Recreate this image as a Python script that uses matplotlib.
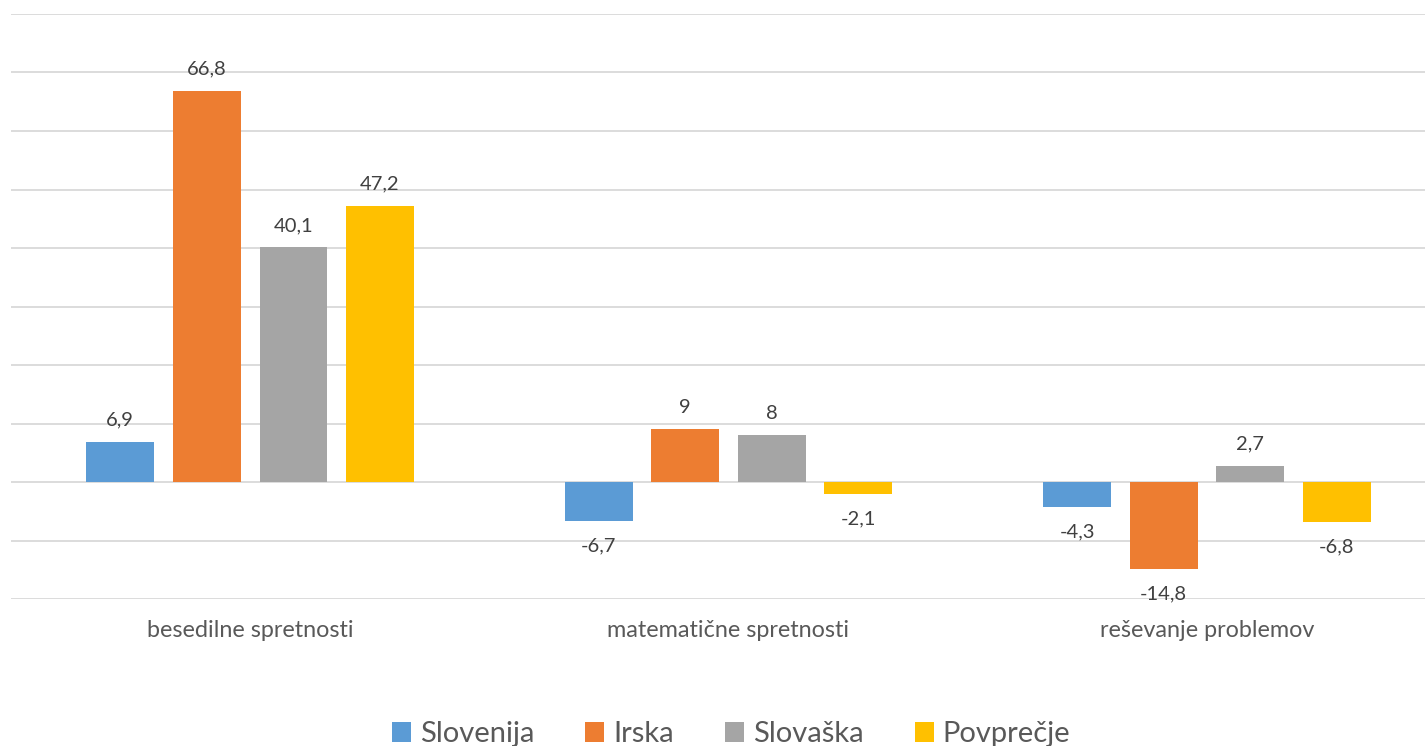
import matplotlib.pyplot as plt
import numpy as np

# podatki
categories = ['besedilne spretnosti', 'matematične spretnosti', 'reševanje problemov']
series_names = ['Slovenija', 'Irska', 'Slovaška', 'Povprečje']
slovenija = [6.9, -6.7, -4.3]
irska = [66.8, 9, -14.8]
slovaska = [40.1, 8, 2.7]
povprecje = [47.2, -2.1, -6.8]
colors = ['#5B9BD5', '#ED7D31', '#A5A5A5', '#FFC000']

plt.rcParams['font.family'] = ['Lato', 'DejaVu Sans']
TEXT = '#404040'
TEXT2 = '#595959'

fig = plt.figure(figsize=(14.25, 7.46), dpi=100)
ax = fig.add_axes([11 / 1425, 147 / 746, 1 - 11 / 1425, 585 / 746])

x = np.arange(len(categories))
width = 0.142
step = 0.181
all_series = [slovenija, irska, slovaska, povprecje]

for i, (name, vals, col) in enumerate(zip(series_names, all_series, colors)):
    pos = x + (i - 1.5) * step
    ax.bar(pos, vals, width, color=col, label=name, zorder=3)
    for px, v in zip(pos, vals):
        txt = f'{v:g}'.replace('.', ',')
        off = 15.8 if v >= 0 else -18
        ax.annotate(txt, (px, v), xytext=(0, off), textcoords='offset points',
                    ha='center', va='center', fontsize=14.5, color=TEXT)

ax.set_ylim(-20, 80)
ax.set_xlim(-0.5, 2.456)
ax.set_yticks(np.arange(-20, 81, 10))
ax.yaxis.grid(True, color='#d9d9d9', linewidth=1.3, zorder=0)
ax.tick_params(axis='y', left=False, labelleft=False)
ax.set_xticks(x)
ax.set_xticklabels(categories, fontsize=16.8, color=TEXT2)
ax.tick_params(axis='x', length=0, pad=15)
for s in ax.spines.values():
    s.set_visible(False)

fig.legend(loc='center', bbox_to_anchor=(731 / 1425, 12 / 746), ncol=4,
           frameon=False, fontsize=21, labelcolor=TEXT2, handlelength=0.65,
           handleheight=0.7, handletextpad=0.3, columnspacing=1.76,
           borderpad=0, borderaxespad=0)

fig.savefig('out.png', dpi=100)
